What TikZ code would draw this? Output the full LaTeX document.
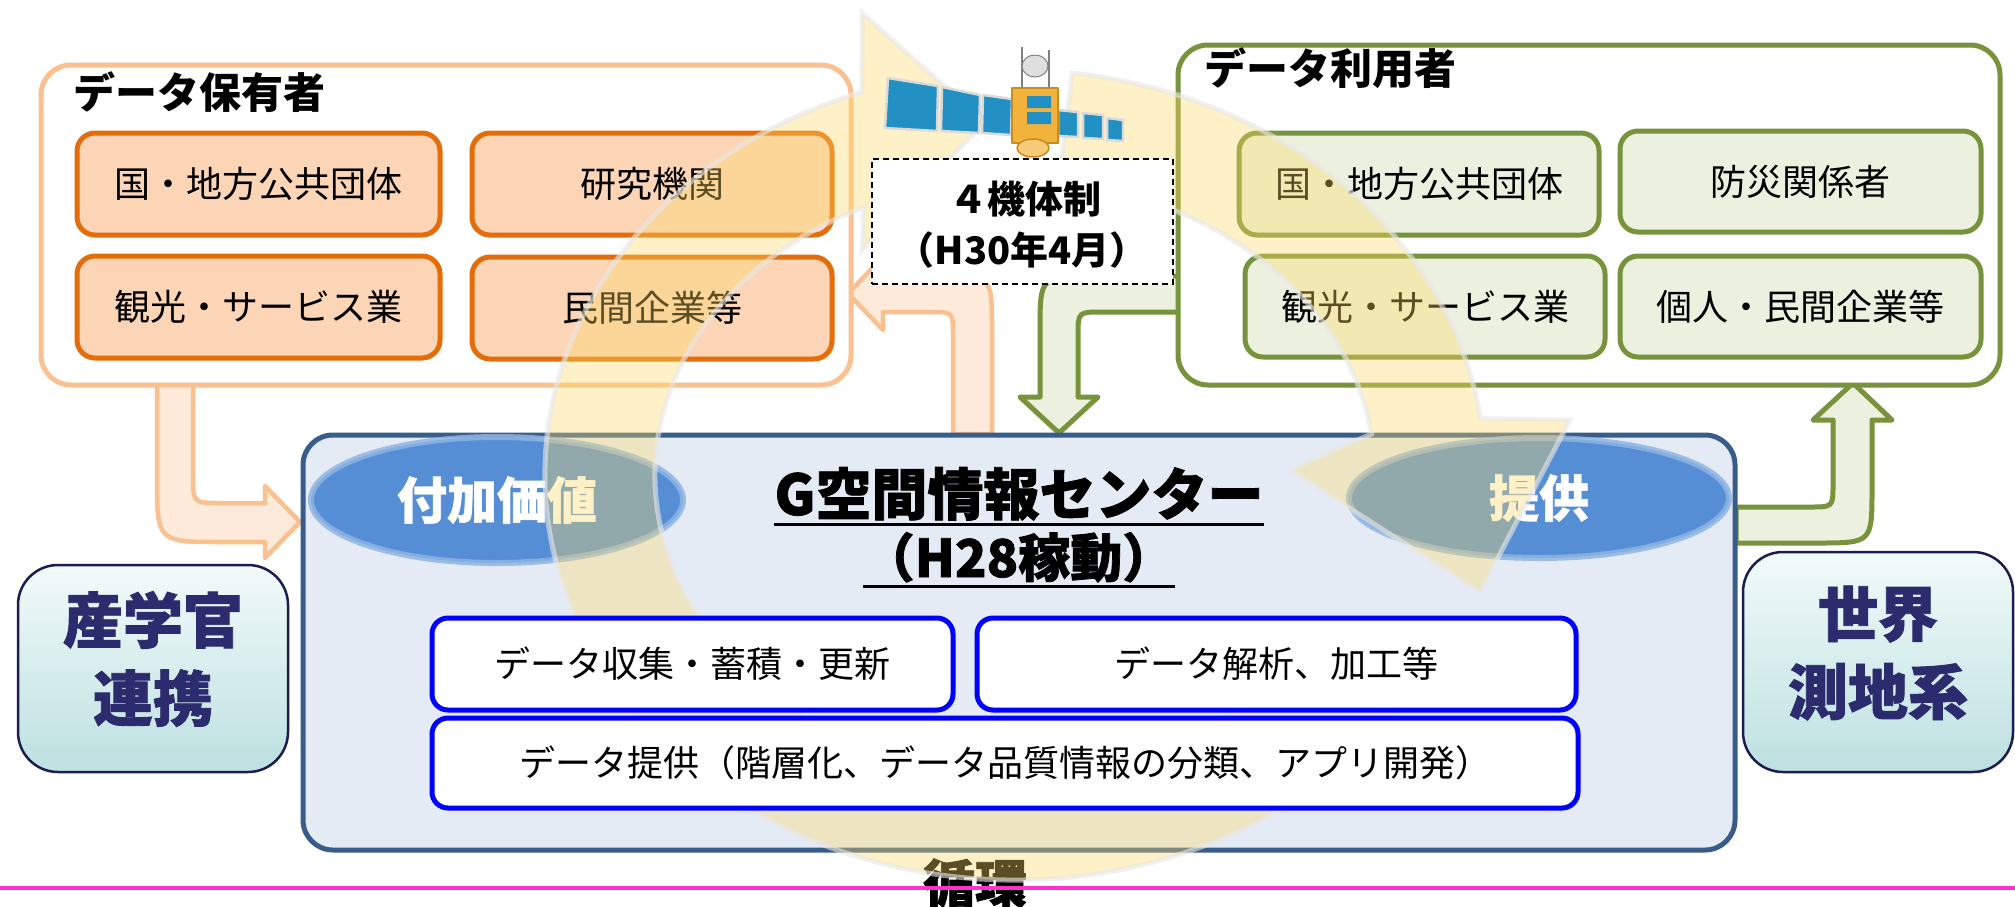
\documentclass[tikz,border=0pt]{standalone}
\usepackage{fontspec}
\setmainfont{Noto Sans CJK JP}
\usetikzlibrary{shapes.geometric}

\definecolor{holdLine}{HTML}{FAC090}
\definecolor{holdFill}{HTML}{FDEADA}
\definecolor{orStroke}{HTML}{E46C0A}
\definecolor{orFill}{HTML}{FBD5B5}
\definecolor{useLine}{HTML}{77933C}
\definecolor{useFill}{HTML}{EBF1DE}
\definecolor{ctrLine}{HTML}{385D8A}
\definecolor{ctrFill}{HTML}{E4EBF5}
\definecolor{ellFill}{HTML}{558ED5}
\definecolor{ellLine}{HTML}{8EB4E3}
\definecolor{taskBlue}{HTML}{0000FF}
\definecolor{sideTop}{HTML}{F2FAFA}
\definecolor{sideBot}{HTML}{BDE0E0}
\definecolor{sideLine}{HTML}{1C1C50}
\definecolor{sideText}{HTML}{2B2B6E}
\definecolor{ringYellow}{HTML}{FFD966}
\definecolor{pinkRule}{HTML}{FF33CC}
\definecolor{panelBlue}{HTML}{2290C2}
\definecolor{panelFrame}{HTML}{D9D9D9}
\definecolor{satGold}{HTML}{F2B33D}
\definecolor{satGoldDark}{HTML}{C98A1E}

\newcommand\jpsize[1]{\fontsize{#1}{#1}\selectfont}
\newcommand\heavier{\addfontfeatures{FakeBold=1.4}}

\begin{document}
\begin{tikzpicture}[x=1pt,y=-1pt,
  groupbox/.style={line width=5pt, rounded corners=30pt, fill=white, inner sep=0pt},
  holdbox/.style={draw=orStroke, fill=orFill, line width=5pt, rounded corners=18pt,
    minimum height=102pt, inner sep=0pt, font=\jpsize{36}},
  usebox/.style={draw=useLine, fill=useFill, line width=5pt, rounded corners=18pt,
    minimum height=102pt, inner sep=0pt, font=\jpsize{36}},
  grouptitle/.style={anchor=west, inner sep=0pt, font=\bfseries\jpsize{42}},
  taskbox/.style={draw=taskBlue, fill=white, line width=5pt, rounded corners=16pt,
    inner sep=0pt, font=\jpsize{36}},
  valueell/.style={ellipse, draw=ellLine, draw opacity=0.85, fill=ellFill, line width=6pt,
    inner sep=0pt, text=white, font=\bfseries\heavier\jpsize{50}},
  sidebox/.style={draw=sideLine, line width=2.5pt, rounded corners=40pt,
    top color=sideTop, bottom color=sideBot, minimum width=270pt, inner sep=0pt},
  sidetext/.style={align=center, text=sideText, inner sep=0pt,
    font=\bfseries\heavier\fontsize{60}{78}\selectfont},
  holdarrow/.style={draw=holdLine, fill=holdFill, line width=4.5pt, line join=round},
  usearrow/.style={draw=useLine, fill=useFill, line width=5pt, line join=round},
  cycleband/.style={fill=ringYellow, fill opacity=0.36, draw=white!82!gray,
    draw opacity=0.6, line width=5pt},
  panel/.style={fill=panelBlue, draw=panelFrame, line width=2.5pt},
  uline/.style={line width=3pt}
]
\useasboundingbox (0,0) rectangle (2015,906);
\fill[white] (0,0) rectangle (2015,906);

% ---- broad arrows between the groups and the centre ----
\draw[holdarrow] (193,383) -- (157,383) -- (157,477) .. controls (157,542) .. (222,542)
  -- (265,542) -- (265,558) -- (300,522) -- (265,486) -- (265,503) -- (221,503)
  .. controls (193,503) .. (193,475) -- cycle;
\draw[holdarrow] (953,434) -- (992,434) -- (992,330) .. controls (992,275) .. (937,275)
  -- (883,275) -- (883,257) -- (848,293.5) -- (883,330) -- (883,312) -- (930,312)
  .. controls (953,312) .. (953,335) -- cycle;
\draw[usearrow] (1182,276) -- (1095,276) .. controls (1040,276) .. (1040,331)
  -- (1040,397) -- (1020,397) -- (1059,433) -- (1098,397) -- (1078,397) -- (1078,336)
  .. controls (1078,312) .. (1102,312) -- (1182,312) -- cycle;
\draw[usearrow] (1736,507) -- (1810,507) .. controls (1833,507) .. (1833,484)
  -- (1833,420) -- (1813,420) -- (1853,383) -- (1892,420) -- (1872,420) -- (1872,488)
  .. controls (1872,543) .. (1817,543) -- (1736,543) -- cycle;

% ---- data holders ----
\node[groupbox, draw=holdLine, minimum width=810pt, minimum height=320pt] (holders) at (446,225) {};
\node[grouptitle] (holdersT) at (73,92) {データ保有者};
\node[holdbox, minimum width=363pt] (h1) at (258.5,184) {国・地方公共団体};
\node[holdbox, minimum width=360pt] (h2) at (652,184) {研究機関};
\node[holdbox, minimum width=363pt] (h3) at (258.5,307) {観光・サービス業};
\node[holdbox, minimum width=360pt] (h4) at (652,308) {民間企業等};

% ---- data users ----
\node[groupbox, draw=useLine, minimum width=822pt, minimum height=340pt] (users) at (1589,215) {};
\node[grouptitle] (usersT) at (1204,68) {データ利用者};
\node[usebox, minimum width=360pt] (u1) at (1419,184) {国・地方公共団体};
\node[usebox, minimum width=361pt, minimum height=101pt] (u2) at (1800.5,181.5) {防災関係者};
\node[usebox, minimum width=360pt, minimum height=101pt] (u3) at (1425,306.5) {観光・サービス業};
\node[usebox, minimum width=361pt, minimum height=101pt] (u4) at (1800.5,306.5) {個人・民間企業等};

% ---- G-space information centre ----
\node[draw=ctrLine, fill=ctrFill, line width=5pt, rounded corners=30pt,
  minimum width=1432pt, minimum height=415pt, inner sep=0pt] (center) at (1019,642.5) {};
\node[valueell, minimum width=372pt, minimum height=126pt] (added) at (497,500) {付加価値};
\node[valueell, minimum width=380pt, minimum height=120pt] (supply) at (1539,498) {提供};
\node[anchor=base, inner sep=0pt, font=\bfseries\heavier\jpsize{56}] (ctitle) at (1019,515) {G空間情報センター};
\draw[uline] ([yshift=-9pt]ctitle.base west) -- ([yshift=-9pt]ctitle.base east);
\node[anchor=base, inner sep=0pt, font=\bfseries\heavier\jpsize{52}] (cstart) at (1018.5,577) {（H28稼動）};
\draw[uline] ([yshift=-9pt]cstart.base west) -- ([yshift=-9pt]cstart.base east);

% ---- side notes ----
\node[sidebox, minimum height=207pt] (sideL) at (153,668.5) {};
\node[sidetext] (sideLT) at (153,659) {産学官\\連携};
\node[sidebox, minimum height=220pt] (sideR) at (1878,662) {};
\node[sidetext] (sideRT) at (1878,653) {世界\\測地系};

% ---- cycle label and yellow cycle band ----
\node[anchor=base, inner sep=0pt, font=\bfseries\heavier\jpsize{52}] (cycleT) at (975,903) {循環};
\begin{scope}[shift={(1015,475)}]
  \path[cycleband] (30:470 and 405) arc[start angle=30, end angle=251, x radius=470, y radius=405]
    -- (-153,-462) -- (-30,-353) -- (-153,-225) -- (245.2:360 and 295)
    arc[start angle=245.2, end angle=30, x radius=360, y radius=295] -- cycle;
  \path[cycleband] (277:470 and 405) arc[start angle=277, end angle=352, x radius=470, y radius=405]
    -- (555,-55) -- (465,117) -- (275,-5) -- (352:360 and 295)
    arc[start angle=352, end angle=277, x radius=360, y radius=295] -- cycle;
\end{scope}

% ---- satellite ----
\begin{scope}[line join=round]
  \path[panel] (888,78) -- (938,86) -- (937,131) -- (885,128) -- cycle;
  \path[panel] (942,87) -- (980,95) -- (979,133) -- (941,131) -- cycle;
  \path[panel] (983,95) -- (1012,99) -- (1011,135) -- (982,133) -- cycle;
  \path[panel] (1058,110) -- (1078,112) -- (1078,137) -- (1058,136) -- cycle;
  \path[panel] (1083,113) -- (1103,115) -- (1103,139) -- (1083,138) -- cycle;
  \path[panel] (1107,118) -- (1123,120) -- (1123,141) -- (1107,140) -- cycle;
  \draw[gray, line width=1.5pt] (1022,47) -- (1022,92) (1049,50) -- (1049,92);
  \filldraw[fill=gray!25, draw=gray, line width=1pt] (1035,66) ellipse [x radius=13, y radius=11];
  \filldraw[fill=satGold, draw=satGoldDark, line width=1.5pt] (1012,88) rectangle (1058,143);
  \fill[panelBlue] (1027,96) rectangle (1051,108) (1027,112) rectangle (1051,124);
  \filldraw[fill=satGold!70!white, draw=satGoldDark, line width=1.5pt] (1033,148) ellipse [x radius=16, y radius=9];
\end{scope}

% ---- centre tasks ----
\node[taskbox, minimum width=521pt, minimum height=92pt] (t1) at (692.5,664) {データ収集・蓄積・更新};
\node[taskbox, minimum width=599pt, minimum height=92pt] (t2) at (1276.5,664) {データ解析、加工等};
\node[taskbox, minimum width=1146pt, minimum height=90pt] (t3) at (1005,763) {データ提供（階層化、データ品質情報の分類、アプリ開発）};

% ---- constellation note ----
\node[draw, dash pattern=on 6pt off 4pt, line width=2pt, fill=white, minimum width=301pt,
  minimum height=125pt, inner sep=0pt] (fleet) at (1022.5,221.5) {};
\node[inner sep=0pt, font=\bfseries\jpsize{38}] (fleetA) at (1025,199) {４機体制};
\node[inner sep=0pt, font=\bfseries\jpsize{38}] (fleetB) at (1022,250.5) {（H30年4月）};

% ---- rule ----
\draw[pinkRule, line width=3.5pt] (0,888) -- (2015,888);
\end{tikzpicture}
\end{document}
